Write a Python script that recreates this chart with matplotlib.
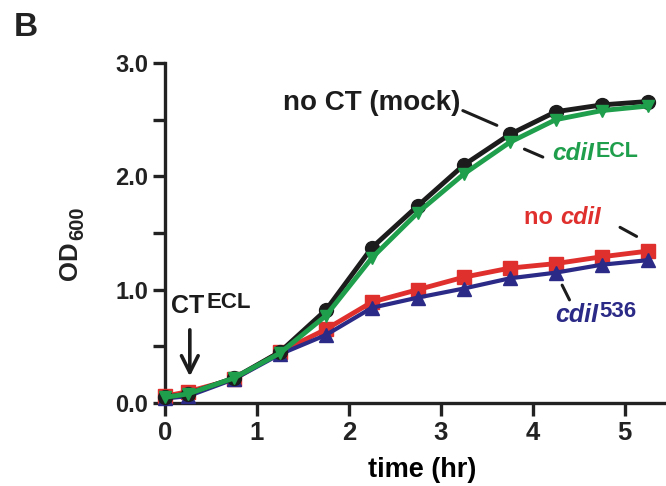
import matplotlib
matplotlib.use('Agg')
import matplotlib.pyplot as plt

plt.rcParams['font.family'] = ['Liberation Sans', 'DejaVu Sans']
plt.rcParams['font.weight'] = 'bold'

# time points (hr)
time_hr = [0, 0.25, 0.75, 1.25, 1.75, 2.25, 2.75, 3.25, 3.75, 4.25, 4.75, 5.25]

# OD600 per strain
od_mock = [0.05, 0.08, 0.22, 0.45, 0.82, 1.37, 1.74, 2.10, 2.37, 2.57, 2.63, 2.66]
od_ecl = [0.05, 0.08, 0.22, 0.44, 0.77, 1.28, 1.68, 2.02, 2.30, 2.50, 2.58, 2.62]
od_nocdii = [0.06, 0.10, 0.21, 0.45, 0.65, 0.89, 1.00, 1.11, 1.19, 1.23, 1.29, 1.34]
od_536 = [0.04, 0.06, 0.21, 0.43, 0.60, 0.84, 0.93, 1.01, 1.10, 1.15, 1.22, 1.26]

c_black = '#1c1c1c'
c_green = '#1f9e4c'
c_red = '#e0302e'
c_navy = '#2b2a86'

fig = plt.figure(figsize=(6.66, 4.86), dpi=100)
ax = fig.add_axes([165 / 666, 83 / 486, (666 - 165) / 666, (403 - 63) / 486])

ax.plot(time_hr, od_nocdii, color=c_red, lw=3.5, marker='s', ms=10, clip_on=False, zorder=3)
ax.plot(time_hr, od_536, color=c_navy, lw=3, marker='^', ms=10, clip_on=False, zorder=4)
ax.plot(time_hr, od_mock, color=c_black, lw=3.5, marker='o', ms=10, clip_on=False, zorder=5)
ax.plot(time_hr, od_ecl, color=c_green, lw=3.5, marker='v', ms=9, clip_on=False, zorder=6)

ax.set_xlim(0, 5.45)
ax.set_ylim(0, 3.0)
ax.set_xticks([0, 1, 2, 3, 4, 5])
ax.set_yticks([0, 1, 2, 3])
ax.set_yticklabels(['0.0', '1.0', '2.0', '3.0'])
ax.set_yticks([0.5, 1.5, 2.5], minor=True)
ax.tick_params(axis='both', which='both', direction='out', length=9, width=2.4,
               colors='#222222')
ax.tick_params(axis='y', labelsize=17, pad=3)
ax.tick_params(axis='x', labelsize=18.5, pad=4)
for lab in ax.get_xticklabels() + ax.get_yticklabels():
    lab.set_fontweight('bold')

for s in ['top', 'right']:
    ax.spines[s].set_visible(False)
for s in ['left', 'bottom']:
    ax.spines[s].set_linewidth(2.4)
    ax.spines[s].set_color('#222222')

ax.set_xlabel('time (hr)', fontsize=19.5, fontweight='bold')
ax.xaxis.set_label_coords(0.513, -0.158)

# y label: OD with a subscript 600
od_t = fig.text(70 / 666, 1 - 280 / 486, 'OD', fontsize=18.5, fontweight='bold',
                rotation=90, ha='center', va='bottom', color='#222222')
ax.annotate('600', xy=(1, 1), xycoords=od_t, xytext=(3.5, 1), textcoords='offset points',
            fontsize=14.5, fontweight='bold', rotation=90, ha='right', va='bottom',
            color='#222222', annotation_clip=False)


def sup_label(x, y, base, sup, color, italic=False, size=17.5, sup_size=15.5):
    # base text plus a large superscript placed right after it
    t = ax.text(x, y, base, fontsize=size, color=color, ha='left', va='center',
                fontweight='bold', fontstyle='italic' if italic else 'normal')
    ax.annotate(sup, xy=(1, 1), xycoords=t, xytext=(1, 1), textcoords='offset points',
                fontsize=sup_size, color=color, fontweight='bold', ha='left', va='top')
    return t


def leader(x0, y0, x1, y1):
    ax.annotate('', xy=(x1, y1), xytext=(x0, y0),
                arrowprops=dict(arrowstyle='-', color=c_black, lw=2.2, shrinkA=0, shrinkB=0))


# labels and leader lines
ax.text(3.21, 2.65, 'no CT (mock)', fontsize=20, fontweight='bold', color=c_black,
        ha='right', va='center')
leader(3.24, 2.58, 3.61, 2.45)

sup_label(4.21, 2.20, 'cdiI', 'ECL', c_green, italic=True)
leader(3.91, 2.24, 4.11, 2.17)

no_t = ax.text(3.91, 1.64, 'no ', fontsize=17, fontweight='bold', color=c_red,
               ha='left', va='center')
ax.annotate('cdiI', xy=(1, 0.5), xycoords=no_t, xytext=(0, 0), textcoords='offset points',
            fontsize=17, fontweight='bold', fontstyle='italic', color=c_red,
            ha='left', va='center')
leader(4.95, 1.55, 5.13, 1.47)

sup_label(4.24, 0.78, 'cdiI', '536', c_navy, italic=True, size=18, sup_size=16)
leader(4.32, 1.04, 4.40, 0.91)

sup_label(0.07, 0.86, 'CT', 'ECL', c_black, size=18, sup_size=16)
ax.annotate('', xy=(0.27, 0.21), xytext=(0.27, 0.67),
            arrowprops=dict(arrowstyle='->', color=c_black, lw=2.6, mutation_scale=30))

fig.text(14 / 666, 1 - 28 / 486, 'B', fontsize=24, fontweight='bold', color='#222222',
         ha='left', va='center')

fig.savefig('out.png', dpi=100)
